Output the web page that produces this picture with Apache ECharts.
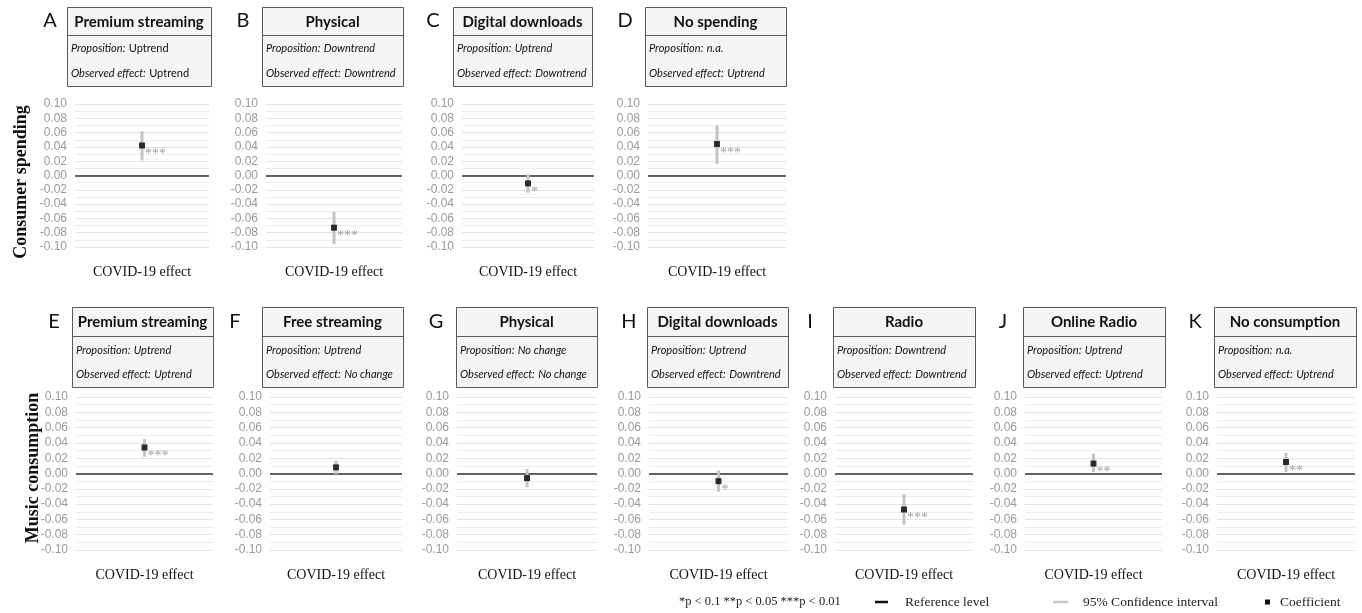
<!DOCTYPE html>
<html>
<head>
<meta charset="utf-8">
<script src="https://cdn.jsdelivr.net/npm/echarts@6/dist/echarts.min.js"></script>
<style>
  html, body { margin: 0; padding: 0; background: #fff; }
  #main { width: 1362px; height: 613px; }
</style>
</head>
<body>
<div id="main"></div>
<script>
// ---- data ----
var panelLetters = ['A', 'B', 'C', 'D', 'E', 'F', 'G', 'H', 'I', 'J', 'K'];
var panelTitles = ['Premium streaming', 'Physical', 'Digital downloads', 'No spending',
  'Premium streaming', 'Free streaming', 'Physical', 'Digital downloads', 'Radio', 'Online Radio', 'No consumption'];
var propositions = ['Uptrend', 'Downtrend', 'Uptrend', 'n.a.',
  'Uptrend', 'Uptrend', 'No change', 'Uptrend', 'Downtrend', 'Uptrend', 'n.a.'];
var observedEffects = ['Uptrend', 'Downtrend', 'Downtrend', 'Uptrend',
  'Uptrend', 'No change', 'No change', 'Downtrend', 'Downtrend', 'Uptrend', 'Uptrend'];
var coefficients = [0.042, -0.073, -0.011, 0.044, 0.034, 0.008, -0.006, -0.010, -0.047, 0.013, 0.015];
var ciLow = [0.021, -0.096, -0.024, 0.016, 0.022, -0.001, -0.018, -0.024, -0.067, 0.002, 0.002];
var ciHigh = [0.062, -0.051, 0.002, 0.070, 0.045, 0.017, 0.006, 0.004, -0.027, 0.026, 0.027];
var stars = ['***', '***', '*', '***', '***', '', '', '*', '***', '**', '**'];
var rowLabels = ['Consumer spending', 'Music consumption'];
var xLabel = 'COVID-19 effect';
var yMin = -0.10, yMax = 0.10, yStep = 0.02;

// ---- layout (pixels) ----
// [plotLeft, plotRight, boxLeft, boxRight, letterX]
var layout = [
  [75, 209, 67, 211, 50], [266, 402, 262, 403, 243], [462, 594, 453, 592, 433], [648, 786, 645, 786, 625],
  [76, 213, 72, 213, 54], [270, 402, 262, 403, 235], [457, 597, 456, 597, 436], [649, 788, 647, 788, 629],
  [835, 973, 833, 975, 810], [1025, 1162, 1023, 1165, 1003], [1217, 1355, 1214, 1356, 1195]
];
var rows = {
  top: { gridTop: 104, gridH: 143, boxTop: 7, boxBand: 35, boxBottom: 86, line1: 48, line2: 73 },
  bottom: { gridTop: 397, gridH: 153, boxTop: 307, boxBand: 336, boxBottom: 387, line1: 350, line2: 374 }
};

var chart = echarts.init(document.getElementById('main'));

var grids = [], xAxes = [], yAxes = [], series = [], graphics = [];

panelLetters.forEach(function (letter, i) {
  var L = layout[i];
  var r = i < 4 ? rows.top : rows.bottom;

  grids.push({ left: L[0], width: L[1] - L[0], top: r.gridTop, height: r.gridH });

  xAxes.push({
    type: 'value', gridIndex: i, min: -1, max: 1,
    axisLine: { show: false }, axisTick: { show: false }, axisLabel: { show: false }, splitLine: { show: false },
    name: xLabel, nameLocation: 'middle', nameGap: 18,
    nameTextStyle: { fontFamily: 'Liberation Serif', fontSize: 14, color: '#111' }
  });

  yAxes.push({
    type: 'value', gridIndex: i, min: yMin, max: yMax, interval: yStep,
    axisLine: { show: false }, axisTick: { show: false },
    axisLabel: {
      color: '#9a9a9a', fontSize: 12, fontFamily: 'Liberation Sans', margin: 8,
      formatter: function (v) { return Math.abs(v) < 1e-9 ? '0.00' : v.toFixed(2); }
    },
    splitLine: { lineStyle: { color: '#e4e4e4', width: 1 } },
    minorTick: { show: false, splitNumber: 2 },
    minorSplitLine: { show: true, lineStyle: { color: '#ececec', width: 1 } }
  });

  // confidence interval
  series.push({
    type: 'line', xAxisIndex: i, yAxisIndex: i, silent: true, symbol: 'none', z: 3,
    lineStyle: { color: '#c4c4c4', width: 3 },
    data: [[0, ciLow[i]], [0, ciHigh[i]]],
    markLine: {
      silent: true, symbol: 'none', label: { show: false }, z: 2,
      lineStyle: { color: '#333', width: 1.5, type: 'solid' },
      data: [{ yAxis: 0 }]
    }
  });

  // coefficient
  series.push({
    type: 'scatter', xAxisIndex: i, yAxisIndex: i, silent: true, z: 4,
    symbol: 'rect', symbolSize: 6, itemStyle: { color: '#000' },
    label: {
      show: stars[i] !== '', formatter: stars[i], position: 'right', distance: 0, offset: [0, 9],
      color: '#8a8a8a', fontSize: 14, fontFamily: 'Liberation Serif'
    },
    data: [[0, coefficients[i]]]
  });

  // header box
  var upright = i === 0;
  graphics.push({
    type: 'rect', shape: { x: L[2] + 0.5, y: r.boxTop + 0.5, width: L[3] - L[2], height: r.boxBottom - r.boxTop },
    style: { fill: '#f5f5f5', stroke: '#5a5a5a', lineWidth: 1 }
  });
  graphics.push({
    type: 'line', shape: { x1: L[2], y1: r.boxBand + 0.5, x2: L[3], y2: r.boxBand + 0.5 },
    style: { stroke: '#5a5a5a', lineWidth: 1 }
  });
  graphics.push({
    type: 'text', x: (L[2] + L[3]) / 2, y: (r.boxTop + r.boxBand) / 2 + 1,
    style: { text: panelTitles[i], font: 'bold 15px Lato', fill: '#111', align: 'center', verticalAlign: 'middle' }
  });
  [['Proposition:', propositions[i], r.line1], ['Observed effect:', observedEffects[i], r.line2]].forEach(function (t) {
    graphics.push({
      type: 'text', x: L[2] + 4, y: t[2],
      style: {
        text: '{k|' + t[0] + '} {v|' + t[1] + '}', verticalAlign: 'middle', align: 'left',
        rich: {
          k: { font: 'italic 11px Lato', fill: '#111' },
          v: { font: (upright ? '' : 'italic ') + '11px Lato', fill: '#111' }
        }
      }
    });
  });
  graphics.push({
    type: 'text', x: L[4], y: (r.boxTop + r.boxBand) / 2,
    style: { text: letter, font: '20px Lato', fill: '#111', align: 'center', verticalAlign: 'middle' }
  });
});

// row labels
graphics.push({
  type: 'text', x: 21, y: 182, rotation: Math.PI / 2,
  style: { text: rowLabels[0], font: 'bold 18px "Liberation Serif"', fill: '#111', align: 'center', verticalAlign: 'middle' }
});
graphics.push({
  type: 'text', x: 33, y: 468, rotation: Math.PI / 2,
  style: { text: rowLabels[1], font: 'bold 18px "Liberation Serif"', fill: '#111', align: 'center', verticalAlign: 'middle' }
});

// legend
var legY = 602;
graphics.push(
  { type: 'text', x: 679, y: legY, style: { text: '*p < 0.1 **p < 0.05 ***p < 0.01', font: '12.5px "Liberation Serif"', fill: '#222', verticalAlign: 'middle' } },
  { type: 'line', shape: { x1: 875, y1: legY, x2: 888, y2: legY }, style: { stroke: '#111', lineWidth: 2.5 } },
  { type: 'text', x: 905, y: legY, style: { text: 'Reference level', font: '13.5px "Liberation Serif"', fill: '#222', verticalAlign: 'middle' } },
  { type: 'line', shape: { x1: 1053, y1: legY, x2: 1068, y2: legY }, style: { stroke: '#c8c8c8', lineWidth: 2.5 } },
  { type: 'text', x: 1083, y: legY, style: { text: '95% Confidence interval', font: '13.5px "Liberation Serif"', fill: '#222', verticalAlign: 'middle' } },
  { type: 'rect', shape: { x: 1265, y: legY - 2.5, width: 5, height: 5 }, style: { fill: '#111' } },
  { type: 'text', x: 1280, y: legY, style: { text: 'Coefficient', font: '13.5px "Liberation Serif"', fill: '#222', verticalAlign: 'middle' } }
);

chart.setOption({
  animation: false,
  backgroundColor: '#fff',
  grid: grids,
  xAxis: xAxes,
  yAxis: yAxes,
  series: series,
  graphic: graphics
});
</script>
</body>
</html>
